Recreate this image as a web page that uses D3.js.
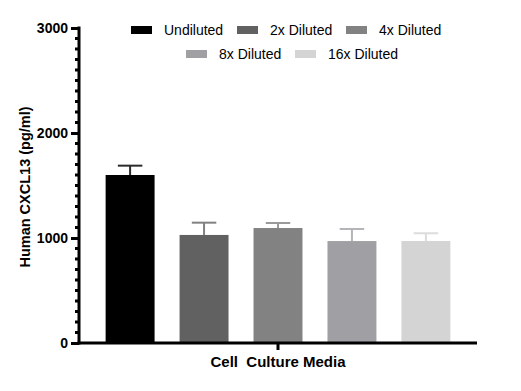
<!DOCTYPE html>
<html>
<head>
<meta charset="utf-8">
<script src="https://cdn.jsdelivr.net/npm/d3@7"></script>
<style>
html,body{margin:0;padding:0;background:#fff;}
svg{display:block;font-family:Arial,"Liberation Sans",sans-serif;}
</style>
</head>
<body>
<svg id="chart" width="521" height="391"></svg>
<script>
const categories = ["Undiluted","2x Diluted","4x Diluted","8x Diluted","16x Diluted"];
const values = [1600, 1029, 1095, 971, 971];
const errors = [89, 117, 48, 115, 74];
const colors = ["#000000","#616161","#828282","#a0a0a4","#d4d4d4"];
const errColors = ["#2a2a2a","#808080","#9a9a9a","#b4b4b8","#dcdcdc"];
const yTicks = [0,1000,2000,3000];
const groupLabel = "Cell  Culture Media";
const yTitle = "Human CXCL13 (pg/ml)";

const svg = d3.select("#chart");
const axisX = 79, axisRight = 477, y0 = 343, yTop = 28;

const y = d3.scaleLinear().domain([0,3000]).range([y0, yTop]);
const x = d3.scaleBand().domain(categories).range([axisX, axisRight]).paddingInner(0.338).paddingOuter(0.36);

// bars
svg.selectAll("rect.bar").data(categories).enter().append("rect")
  .attr("x", d => x(d)).attr("width", x.bandwidth())
  .attr("y", (d,i) => y(values[i])).attr("height", (d,i) => y0 - y(values[i]))
  .attr("fill", (d,i) => colors[i]);

// error bars
const eg = svg.selectAll("g.err").data(categories).enter().append("g");
eg.append("line")
  .attr("x1", d => x(d) + x.bandwidth()/2).attr("x2", d => x(d) + x.bandwidth()/2)
  .attr("y1", (d,i) => y(values[i])).attr("y2", (d,i) => y(values[i]+errors[i]))
  .attr("stroke", (d,i) => errColors[i]).attr("stroke-width", 2);
eg.append("line")
  .attr("x1", d => x(d) + x.bandwidth()/4).attr("x2", d => x(d) + 3*x.bandwidth()/4)
  .attr("y1", (d,i) => y(values[i]+errors[i])).attr("y2", (d,i) => y(values[i]+errors[i]))
  .attr("stroke", (d,i) => errColors[i]).attr("stroke-width", 2);

// y axis
const yAxis = d3.axisLeft(y).tickValues(yTicks).tickSize(8).tickPadding(3).tickFormat(d3.format("d"));
const yg = svg.append("g").attr("transform", `translate(${axisX},0)`).call(yAxis);
yg.select(".domain").remove();
yg.selectAll(".tick line").attr("stroke", "#000").attr("stroke-width", 3);
yg.selectAll(".tick text").attr("font-size", 14).attr("font-weight", "bold").attr("fill", "#000")
  .attr("font-family", "Arial, 'Liberation Sans', sans-serif");
// minor ticks
const minor = d3.range(100, 3000, 100).filter(v => v % 1000 !== 0);
svg.append("g").selectAll("line").data(minor).enter().append("line")
  .attr("x1", axisX - 4).attr("x2", axisX).attr("y1", d => y(d)).attr("y2", d => y(d))
  .attr("stroke", "#000").attr("stroke-width", 3);
svg.append("line").attr("x1", axisX).attr("x2", axisX).attr("y1", yTop - 1.5).attr("y2", y0 + 1.5)
  .attr("stroke", "#000").attr("stroke-width", 3);

// x axis
svg.append("line").attr("x1", axisX - 1.5).attr("x2", axisRight).attr("y1", y0).attr("y2", y0)
  .attr("stroke", "#000").attr("stroke-width", 3);
const midX = x(categories[2]) + x.bandwidth()/2;
svg.append("line").attr("x1", midX).attr("x2", midX).attr("y1", y0).attr("y2", y0 + 7)
  .attr("stroke", "#000").attr("stroke-width", 3);
svg.append("text").attr("x", midX).attr("y", 367).attr("text-anchor", "middle")
  .attr("font-size", 15).attr("font-weight", "bold").style("white-space", "pre").text(groupLabel);

// y title
svg.append("text").attr("transform", `translate(30,187) rotate(-90)`).attr("text-anchor", "middle")
  .attr("font-size", 14.5).attr("font-weight", "bold").text(yTitle);

// legend
const legendPos = [
  {sx:131, ty:35}, {sx:237, ty:35}, {sx:346, ty:35},
  {sx:186, ty:59}, {sx:295, ty:59}
];
const lg = svg.selectAll("g.leg").data(categories).enter().append("g");
lg.append("rect").attr("x", (d,i) => legendPos[i].sx).attr("y", (d,i) => legendPos[i].ty - 9)
  .attr("width", 21).attr("height", 8).attr("fill", (d,i) => colors[i]);
lg.append("text").attr("x", (d,i) => legendPos[i].sx + 33).attr("y", (d,i) => legendPos[i].ty)
  .attr("font-size", 14).attr("fill", "#000").text(d => d);
</script>
</body>
</html>
